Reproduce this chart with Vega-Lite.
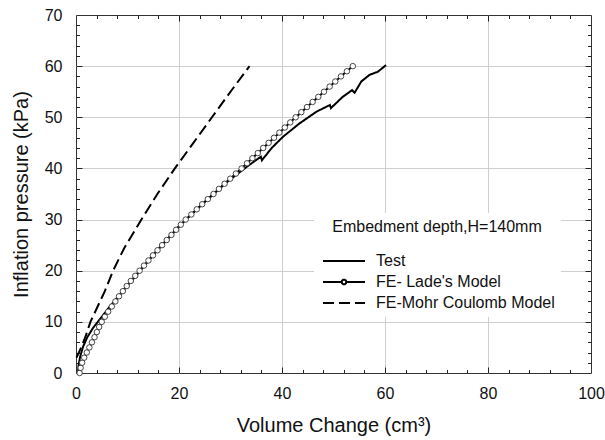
{
  "$schema": "https://vega.github.io/schema/vega-lite/v6.json",
  "autosize": {"type": "none"},
  "padding": {"left": 76, "top": 15, "right": 14, "bottom": 67},
  "width": 515,
  "height": 358,
  "background": "white",
  "config": {
    "view": {"stroke": "#333", "strokeWidth": 1},
    "font": "Liberation Sans",
    "axis": {
      "labelFont": "Liberation Sans",
      "titleFont": "Liberation Sans",
      "labelColor": "#111",
      "titleColor": "#111",
      "titleFontWeight": "normal",
      "gridColor": "#cfcfcf",
      "gridWidth": 1
    }
  },
  "data": {
    "values": [
      {"series": "Test", "v": 0.4, "p": 0},
      {"series": "Test", "v": 0.5, "p": 1.5},
      {"series": "Test", "v": 0.8, "p": 3.2},
      {"series": "Test", "v": 1.4, "p": 5.2},
      {"series": "Test", "v": 2.2, "p": 7},
      {"series": "Test", "v": 3.3, "p": 8.8},
      {"series": "Test", "v": 4.7, "p": 10.6},
      {"series": "Test", "v": 6.5, "p": 12.9},
      {"series": "Test", "v": 8.8, "p": 15.7},
      {"series": "Test", "v": 11.8, "p": 19.2},
      {"series": "Test", "v": 15.6, "p": 23.8},
      {"series": "Test", "v": 19.8, "p": 28.5},
      {"series": "Test", "v": 24.5, "p": 33},
      {"series": "Test", "v": 29.5, "p": 37.5},
      {"series": "Test", "v": 33.4, "p": 40.5},
      {"series": "Test", "v": 35.9, "p": 42.3},
      {"series": "Test", "v": 36.1, "p": 41.6},
      {"series": "Test", "v": 38, "p": 44},
      {"series": "Test", "v": 40.2, "p": 46.2},
      {"series": "Test", "v": 43.4, "p": 48.8},
      {"series": "Test", "v": 46.7, "p": 51.1},
      {"series": "Test", "v": 49.3, "p": 52.4},
      {"series": "Test", "v": 49.5, "p": 51.8},
      {"series": "Test", "v": 51.8, "p": 54},
      {"series": "Test", "v": 53.6, "p": 55.3},
      {"series": "Test", "v": 54.1, "p": 54.8},
      {"series": "Test", "v": 55.4, "p": 57},
      {"series": "Test", "v": 57, "p": 58.3},
      {"series": "Test", "v": 58.6, "p": 58.9},
      {"series": "Test", "v": 60.2, "p": 60.2},
      {"series": "FE- Lade's Model", "v": 0.7, "p": 0},
      {"series": "FE- Lade's Model", "v": 0.9, "p": 1},
      {"series": "FE- Lade's Model", "v": 1.2, "p": 2},
      {"series": "FE- Lade's Model", "v": 1.6, "p": 3},
      {"series": "FE- Lade's Model", "v": 2.1, "p": 4},
      {"series": "FE- Lade's Model", "v": 2.6, "p": 5},
      {"series": "FE- Lade's Model", "v": 3.1, "p": 6},
      {"series": "FE- Lade's Model", "v": 3.6, "p": 7},
      {"series": "FE- Lade's Model", "v": 4.05, "p": 8},
      {"series": "FE- Lade's Model", "v": 4.5, "p": 9},
      {"series": "FE- Lade's Model", "v": 5.0, "p": 10},
      {"series": "FE- Lade's Model", "v": 5.6, "p": 11},
      {"series": "FE- Lade's Model", "v": 6.25, "p": 12},
      {"series": "FE- Lade's Model", "v": 6.95, "p": 13},
      {"series": "FE- Lade's Model", "v": 7.65, "p": 14},
      {"series": "FE- Lade's Model", "v": 8.35, "p": 15},
      {"series": "FE- Lade's Model", "v": 9.1, "p": 16},
      {"series": "FE- Lade's Model", "v": 9.85, "p": 17},
      {"series": "FE- Lade's Model", "v": 10.65, "p": 18},
      {"series": "FE- Lade's Model", "v": 11.5, "p": 19},
      {"series": "FE- Lade's Model", "v": 12.35, "p": 20},
      {"series": "FE- Lade's Model", "v": 13.2, "p": 21},
      {"series": "FE- Lade's Model", "v": 14.07, "p": 22},
      {"series": "FE- Lade's Model", "v": 14.95, "p": 23},
      {"series": "FE- Lade's Model", "v": 15.83, "p": 24},
      {"series": "FE- Lade's Model", "v": 16.72, "p": 25},
      {"series": "FE- Lade's Model", "v": 17.62, "p": 26},
      {"series": "FE- Lade's Model", "v": 18.53, "p": 27},
      {"series": "FE- Lade's Model", "v": 19.44, "p": 28},
      {"series": "FE- Lade's Model", "v": 20.36, "p": 29},
      {"series": "FE- Lade's Model", "v": 21.3, "p": 30},
      {"series": "FE- Lade's Model", "v": 22.4, "p": 31},
      {"series": "FE- Lade's Model", "v": 23.45, "p": 32},
      {"series": "FE- Lade's Model", "v": 24.5, "p": 33},
      {"series": "FE- Lade's Model", "v": 25.6, "p": 34},
      {"series": "FE- Lade's Model", "v": 26.7, "p": 35},
      {"series": "FE- Lade's Model", "v": 27.75, "p": 36},
      {"series": "FE- Lade's Model", "v": 28.85, "p": 37},
      {"series": "FE- Lade's Model", "v": 29.95, "p": 38},
      {"series": "FE- Lade's Model", "v": 31.05, "p": 39},
      {"series": "FE- Lade's Model", "v": 32.15, "p": 40},
      {"series": "FE- Lade's Model", "v": 33.2, "p": 41},
      {"series": "FE- Lade's Model", "v": 34.25, "p": 42},
      {"series": "FE- Lade's Model", "v": 35.3, "p": 43},
      {"series": "FE- Lade's Model", "v": 36.35, "p": 44},
      {"series": "FE- Lade's Model", "v": 37.4, "p": 45},
      {"series": "FE- Lade's Model", "v": 38.45, "p": 46},
      {"series": "FE- Lade's Model", "v": 39.5, "p": 47},
      {"series": "FE- Lade's Model", "v": 40.55, "p": 48},
      {"series": "FE- Lade's Model", "v": 41.6, "p": 49},
      {"series": "FE- Lade's Model", "v": 42.65, "p": 50},
      {"series": "FE- Lade's Model", "v": 43.75, "p": 51},
      {"series": "FE- Lade's Model", "v": 44.85, "p": 52},
      {"series": "FE- Lade's Model", "v": 45.95, "p": 53},
      {"series": "FE- Lade's Model", "v": 47.05, "p": 54},
      {"series": "FE- Lade's Model", "v": 48.15, "p": 55},
      {"series": "FE- Lade's Model", "v": 49.25, "p": 56},
      {"series": "FE- Lade's Model", "v": 50.35, "p": 57},
      {"series": "FE- Lade's Model", "v": 51.45, "p": 58},
      {"series": "FE- Lade's Model", "v": 52.6, "p": 59},
      {"series": "FE- Lade's Model", "v": 53.75, "p": 60},
      {"series": "FE-Mohr Coulomb Model", "v": 0.1, "p": 3},
      {"series": "FE-Mohr Coulomb Model", "v": 1.0, "p": 5},
      {"series": "FE-Mohr Coulomb Model", "v": 1.8, "p": 7},
      {"series": "FE-Mohr Coulomb Model", "v": 2.8, "p": 10},
      {"series": "FE-Mohr Coulomb Model", "v": 4.2, "p": 13},
      {"series": "FE-Mohr Coulomb Model", "v": 5.6, "p": 16},
      {"series": "FE-Mohr Coulomb Model", "v": 7.2, "p": 20},
      {"series": "FE-Mohr Coulomb Model", "v": 9.4, "p": 24.5},
      {"series": "FE-Mohr Coulomb Model", "v": 12.7, "p": 30},
      {"series": "FE-Mohr Coulomb Model", "v": 15.8, "p": 35},
      {"series": "FE-Mohr Coulomb Model", "v": 19.2, "p": 40},
      {"series": "FE-Mohr Coulomb Model", "v": 22.8, "p": 45},
      {"series": "FE-Mohr Coulomb Model", "v": 26.4, "p": 50},
      {"series": "FE-Mohr Coulomb Model", "v": 30.0, "p": 55},
      {"series": "FE-Mohr Coulomb Model", "v": 33.7, "p": 60}
    ]
  },
  "resolve": {
    "axis": {"x": "independent", "y": "independent"}
  },
  "layer": [
    {
      "mark": {"type": "line", "color": "black", "strokeWidth": 2},
      "encoding": {
        "x": {
          "field": "v", "type": "quantitative",
          "scale": {"domain": [0, 100], "nice": false, "zero": false},
          "axis": {
            "orient": "bottom", "values": [0, 20, 40, 60, 80, 100],
            "title": "Volume Change (cm³)", "titleFontSize": 20, "titlePadding": 14,
            "labelFontSize": 16, "labelPadding": 12,
            "ticks": false, "domain": false, "grid": true,
            "gridOpacity": {"condition": {"test": "datum.value <= 0 || datum.value >= 100", "value": 0}, "value": 1},
            "labelFlush": false
          }
        },
        "y": {
          "field": "p", "type": "quantitative",
          "scale": {"domain": [0, 70], "nice": false, "zero": false},
          "axis": {
            "orient": "left", "values": [0, 10, 20, 30, 40, 50, 60, 70],
            "title": "Inflation pressure (kPa)", "titleFontSize": 20, "titlePadding": 13,
            "labelFontSize": 16, "labelPadding": 14,
            "ticks": false, "domain": false, "grid": true,
            "gridOpacity": {"condition": {"test": "datum.value <= 0 || datum.value >= 70", "value": 0}, "value": 1},
            "labelFlush": false
          }
        },
        "detail": {"field": "series"},
        "strokeDash": {
          "field": "series", "type": "nominal",
          "scale": {
            "domain": ["Test", "FE- Lade's Model", "FE-Mohr Coulomb Model"],
            "range": [[1, 0], [1, 0], [11, 5]]
          },
          "legend": {
            "title": "Embedment depth,H=140mm",
            "orient": "none", "legendX": 238, "legendY": 198,
            "titleAnchor": "middle", "titleLimit": 0,
            "titleFont": "Liberation Sans", "titleFontSize": 16, "titleFontWeight": "normal",
            "titleColor": "#111", "titlePadding": 18,
            "labelFont": "Liberation Sans", "labelFontSize": 16, "labelColor": "#111",
            "labelLimit": 0,
            "labelOffset": 40, "rowPadding": 5,
            "symbolSize": 100, "symbolStrokeWidth": 2, "symbolStrokeColor": "black",
            "symbolFillColor": "white",
            "padding": 6, "fillColor": "white",
            "encode": {
              "symbols": {
                "update": {
                  "shape": {"signal": "indexof(datum.value, 'Lade') >= 0 ? 'M-1,0H2.74M3.66,0H7.4M3.66,0A0.46,0.46 0 1,1 2.74,0A0.46,0.46 0 1,1 3.66,0' : 'M-1,0H7.4'"},
                  "strokeDash": {"signal": "indexof(datum.value, 'Mohr') >= 0 ? [17, 6] : [1, 0]"}
                }
              }
            }
          }
        }
      }
    },
    {
      "transform": [{"filter": "indexof(datum.series, 'Lade') >= 0"}],
      "mark": {"type": "point", "shape": "circle", "size": 30, "filled": true, "fill": "white", "stroke": "#333", "strokeWidth": 0.9, "opacity": 1},
      "encoding": {
        "x": {
          "field": "v", "type": "quantitative",
          "axis": {
            "orient": "top", "values": [4,8,12,16,20,24,28,32,36,40,44,48,52,56,60,64,68,72,76,80,84,88,92,96],
            "labels": true, "labelOpacity": 0, "labelFontSize": 4, "title": null, "ticks": false, "domain": false,
            "grid": true, "gridColor": "#222", "gridWidth": 1,
            "gridDash": {"condition": {"test": "datum.value % 20 === 0", "value": [6, 346, 6, 60]}, "value": [3.5, 351, 3.5, 60]}
          }
        },
        "y": {
          "field": "p", "type": "quantitative",
          "axis": {
            "orient": "right", "values": [2,4,6,8,10,12,14,16,18,20,22,24,26,28,30,32,34,36,38,40,42,44,46,48,50,52,54,56,58,60,62,64,66,68],
            "labels": true, "labelOpacity": 0, "labelFontSize": 4, "title": null, "ticks": false, "domain": false,
            "grid": true, "gridColor": "#222", "gridWidth": 1,
            "gridDash": {"condition": {"test": "datum.value % 10 === 0", "value": [6, 503, 6, 60]}, "value": [3.5, 508, 3.5, 60]}
          }
        }
      }
    }
  ]
}
